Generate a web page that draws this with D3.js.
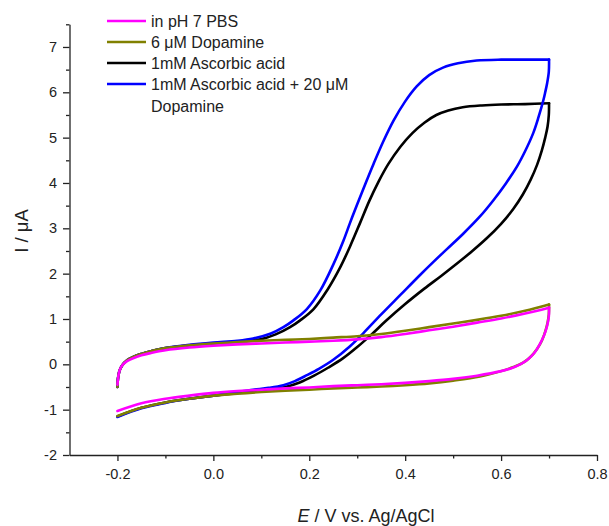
<!DOCTYPE html>
<html>
<head>
<meta charset="utf-8">
<script src="https://cdn.jsdelivr.net/npm/d3@7"></script>
<style>
  body { margin: 0; background: #fff; }
  text { font-family: "Liberation Sans", Arial, sans-serif; fill: #222; }
</style>
</head>
<body>
<svg id="chart" width="609" height="526"></svg>
<script>
// Cyclic voltammograms, scan -0.2 V -> 0.7 V -> -0.2 V; points are [E (V), I (uA)]

const seriesLabels = ["in pH 7 PBS", "6 \u03bcM Dopamine", "1mM Ascorbic acid", "1mM Ascorbic acid + 20 \u03bcM\nDopamine"];

const xTicks = [-0.2, 0.0, 0.2, 0.4, 0.6, 0.8];
const xMinorTicks = [-0.1, 0.1, 0.3, 0.5, 0.7];
const yTicks = [-2, -1, 0, 1, 2, 3, 4, 5, 6, 7];
const yMinorTicks = [-1.5, -0.5, 0.5, 1.5, 2.5, 3.5, 4.5, 5.5, 6.5, 7.5];

// buffer only (pH 7 PBS)
const pbsForward = [[-0.2,-0.45],[-0.198,-0.25],[-0.195,-0.12],[-0.19,-0.02],[-0.18,0.07],[-0.166,0.14],[-0.15,0.2],[-0.13,0.25],[-0.1,0.31],[-0.05,0.37],[0.0,0.41],[0.05,0.44],[0.1,0.46],[0.15,0.48],[0.2,0.5],[0.25,0.52],[0.3,0.55],[0.35,0.6],[0.4,0.67],[0.45,0.75],[0.5,0.83],[0.55,0.92],[0.6,1.01],[0.65,1.12],[0.7,1.25]];
const pbsReverse = [[0.7,1.25],[0.6995,1.05],[0.696,0.85],[0.69,0.65],[0.68,0.43],[0.67,0.26],[0.655,0.1],[0.64,0.0],[0.62,-0.09],[0.6,-0.15],[0.55,-0.25],[0.5,-0.32],[0.45,-0.37],[0.4,-0.41],[0.35,-0.44],[0.3,-0.46],[0.25,-0.48],[0.2,-0.51],[0.15,-0.53],[0.1,-0.56],[0.05,-0.59],[0.0,-0.63],[-0.05,-0.69],[-0.1,-0.76],[-0.15,-0.86],[-0.2,-1.03]];

// 6 uM dopamine
const dopForward = [[-0.2,-0.5],[-0.199,-0.32],[-0.196,-0.15],[-0.19,-0.02],[-0.18,0.09],[-0.166,0.17],[-0.15,0.23],[-0.13,0.29],[-0.1,0.36],[-0.05,0.42],[0.0,0.46],[0.05,0.49],[0.1,0.52],[0.15,0.54],[0.2,0.56],[0.25,0.59],[0.3,0.62],[0.35,0.67],[0.4,0.74],[0.45,0.82],[0.5,0.9],[0.55,0.98],[0.6,1.07],[0.65,1.18],[0.7,1.32]];
const dopReverse = [[0.7,1.32],[0.6995,1.1],[0.697,0.92],[0.692,0.72],[0.685,0.52],[0.675,0.34],[0.66,0.15],[0.645,0.03],[0.626,-0.06],[0.6,-0.15],[0.556,-0.27],[0.5,-0.36],[0.45,-0.42],[0.4,-0.46],[0.35,-0.49],[0.3,-0.51],[0.25,-0.53],[0.2,-0.56],[0.15,-0.58],[0.1,-0.61],[0.05,-0.65],[0.0,-0.69],[-0.05,-0.76],[-0.1,-0.84],[-0.15,-0.96],[-0.2,-1.14]];

// 1 mM ascorbic acid
const aaForward = [[-0.2,-0.5],[-0.199,-0.32],[-0.196,-0.15],[-0.19,-0.02],[-0.18,0.09],[-0.166,0.17],[-0.15,0.23],[-0.13,0.29],[-0.1,0.36],[-0.05,0.42],[0.0,0.46],[0.05,0.5],[0.098,0.55],[0.13,0.66],[0.16,0.82],[0.181,0.97],[0.209,1.22],[0.237,1.63],[0.265,2.15],[0.285,2.6],[0.306,3.12],[0.325,3.6],[0.344,4.02],[0.365,4.42],[0.39,4.8],[0.415,5.1],[0.44,5.33],[0.465,5.5],[0.49,5.6],[0.52,5.67],[0.56,5.71],[0.6,5.73],[0.65,5.74],[0.7,5.76]];
const aaReverse = [[0.7,5.76],[0.6995,5.5],[0.697,5.25],[0.692,5.0],[0.685,4.72],[0.675,4.4],[0.662,4.08],[0.645,3.74],[0.625,3.42],[0.6,3.1],[0.57,2.78],[0.54,2.5],[0.51,2.24],[0.475,1.95],[0.44,1.67],[0.4,1.33],[0.36,0.96],[0.33,0.66],[0.3,0.38],[0.27,0.13],[0.24,-0.07],[0.21,-0.25],[0.18,-0.4],[0.15,-0.5],[0.12,-0.55],[0.09,-0.58],[0.05,-0.63],[0.0,-0.69],[-0.05,-0.76],[-0.1,-0.84],[-0.15,-0.96],[-0.2,-1.15]];

// 1 mM ascorbic acid + 20 uM dopamine
const aaDaForward = [[-0.2,-0.5],[-0.199,-0.32],[-0.196,-0.15],[-0.19,-0.02],[-0.18,0.09],[-0.166,0.17],[-0.15,0.23],[-0.13,0.29],[-0.1,0.36],[-0.05,0.43],[0.0,0.48],[0.05,0.52],[0.083,0.57],[0.12,0.68],[0.146,0.82],[0.167,0.97],[0.195,1.22],[0.223,1.63],[0.25,2.2],[0.271,2.72],[0.285,3.12],[0.3,3.53],[0.32,4.06],[0.334,4.42],[0.355,4.93],[0.376,5.38],[0.4,5.8],[0.424,6.13],[0.45,6.38],[0.48,6.55],[0.51,6.64],[0.549,6.7],[0.6,6.72],[0.65,6.72],[0.7,6.72]];
const aaDaReverse = [[0.7,6.72],[0.6995,6.45],[0.696,6.2],[0.692,6.0],[0.688,5.82],[0.678,5.45],[0.667,5.1],[0.65,4.7],[0.633,4.36],[0.61,3.99],[0.584,3.62],[0.555,3.25],[0.521,2.88],[0.487,2.54],[0.46,2.27],[0.431,1.97],[0.39,1.53],[0.35,1.1],[0.313,0.69],[0.285,0.4],[0.25,0.1],[0.22,-0.1],[0.195,-0.24],[0.17,-0.37],[0.146,-0.46],[0.115,-0.52],[0.083,-0.56],[0.05,-0.61],[0.0,-0.69],[-0.05,-0.76],[-0.1,-0.85],[-0.15,-0.97],[-0.2,-1.16]];

const seriesData = [
  [pbsForward, pbsReverse],
  [dopForward, dopReverse],
  [aaForward, aaReverse],
  [aaDaForward, aaDaReverse]
];
const seriesColors = ["#ff00ff", "#808000", "#000000", "#0000ff"];
const drawOrder = [2, 3, 1, 0];

const svg = d3.select("#chart");
const x = d3.scaleLinear().domain([-0.3, 0.8]).range([69.5, 597]);
const y = d3.scaleLinear().domain([-2, 7.5]).range([455, 24.3]);

// axes
const axisColor = "#222";
function styleAxis(g) {
  g.selectAll("path, line").attr("stroke", axisColor).attr("stroke-width", 1.3);
  g.selectAll("text").attr("fill", axisColor).style("font-size", "14.5px")
    .style("font-family", '"Liberation Sans", Arial, sans-serif');
}

svg.append("g").attr("transform", `translate(0,${y(-2)})`)
  .call(d3.axisBottom(x).tickValues(xMinorTicks).tickSize(3.5).tickSizeOuter(0).tickFormat(""))
  .call(g => g.select(".domain").remove())
  .call(styleAxis);
svg.append("g").attr("transform", `translate(0,${y(-2)})`)
  .call(d3.axisBottom(x).tickValues(xTicks).tickSize(6).tickSizeOuter(0).tickPadding(8)
    .tickFormat(d => d.toFixed(1)))
  .call(styleAxis);

svg.append("g").attr("transform", `translate(${x(-0.3)},0)`)
  .call(d3.axisLeft(y).tickValues(yMinorTicks).tickSize(3.5).tickSizeOuter(0).tickFormat(""))
  .call(g => g.select(".domain").remove())
  .call(styleAxis);
svg.append("g").attr("transform", `translate(${x(-0.3)},0)`)
  .call(d3.axisLeft(y).tickValues(yTicks).tickSize(6.5).tickSizeOuter(0).tickPadding(6)
    .tickFormat(d => String(d)))
  .call(styleAxis);

// curves
const line = d3.line().x(d => x(d[0])).y(d => y(d[1])).curve(d3.curveCatmullRom.alpha(0.5));
drawOrder.forEach(i => {
  seriesData[i].forEach(branch => {
    svg.append("path")
      .attr("d", line(branch))
      .attr("fill", "none")
      .attr("stroke", seriesColors[i])
      .attr("stroke-width", 2.6)
      .attr("stroke-linejoin", "round")
      .attr("stroke-linecap", "round");
  });
});

// legend
const legend = svg.append("g").attr("transform", "translate(107,21)");
seriesLabels.forEach((label, i) => {
  const row = legend.append("g").attr("transform", `translate(0,${i * 21})`);
  row.append("line").attr("x1", 0).attr("x2", 39).attr("y1", 0).attr("y2", 0)
    .attr("stroke", seriesColors[i]).attr("stroke-width", 2.6);
  const t = row.append("text").attr("x", 44).attr("y", 5.5).style("font-size", "16px");
  label.split("\n").forEach((part, j) => {
    t.append("tspan").attr("x", 44).attr("dy", j === 0 ? 0 : 22).text(part);
  });
});

// axis titles
svg.append("text")
  .attr("transform", "translate(28,231) rotate(-90)")
  .attr("text-anchor", "middle")
  .style("font-size", "18.5px")
  .text("I / \u03bcA");

const xt = svg.append("text")
  .attr("x", 366).attr("y", 522)
  .attr("text-anchor", "middle")
  .style("font-size", "18px");
xt.append("tspan").style("font-style", "italic").text("E");
xt.append("tspan").text(" / V vs. Ag/AgCl");
</script>
</body>
</html>
